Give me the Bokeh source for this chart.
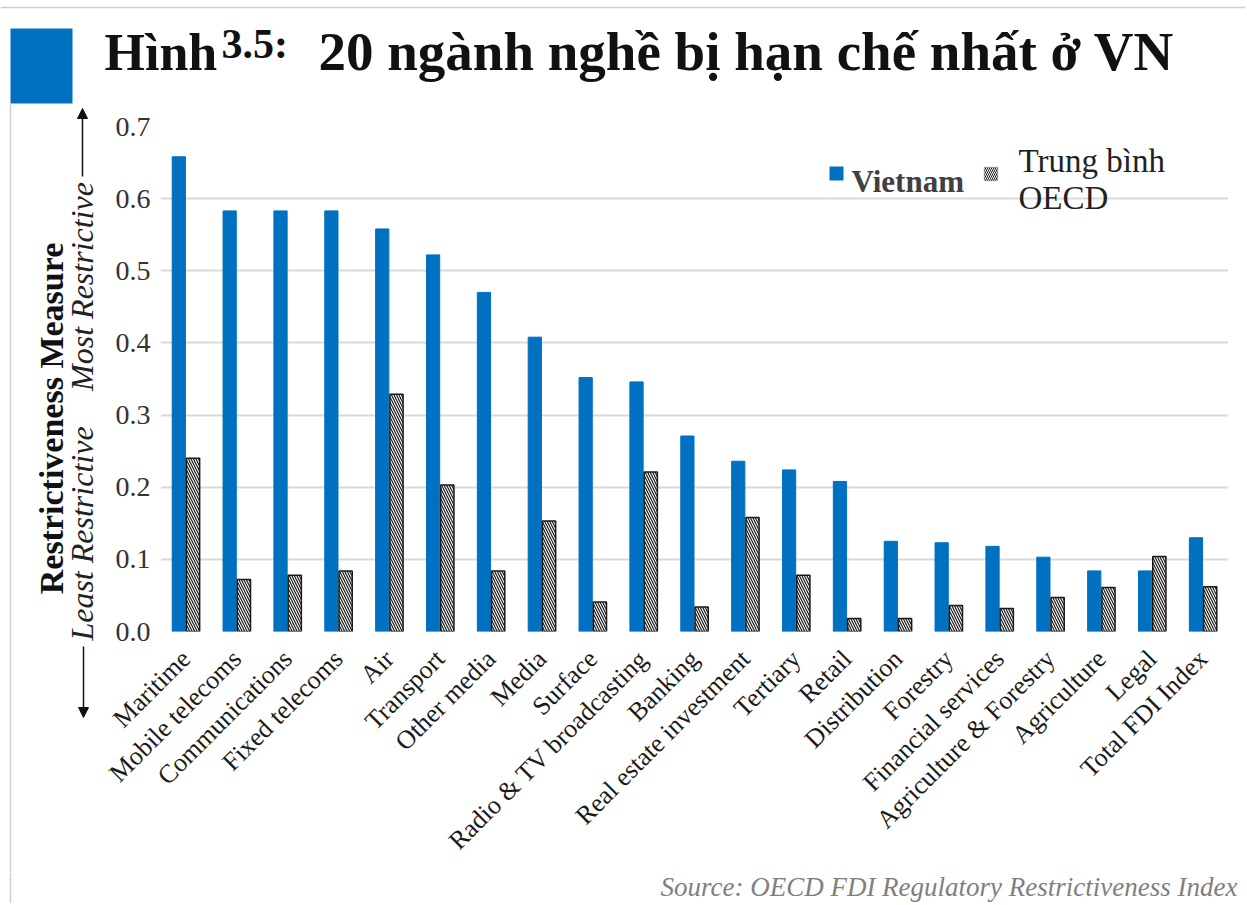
from math import pi
from bokeh.plotting import figure
from bokeh.layouts import column, row
from bokeh.models import (Label, BoxAnnotation, Arrow, NormalHead, Range1d, FactorRange,
                          FixedTicker, PrintfTickFormatter, ColumnDataSource)
from bokeh.core.properties import value
from bokeh.transform import dodge
from bokeh.embed import file_html
from bokeh.resources import INLINE

# ---------------- data ----------------
categories = ["Maritime", "Mobile telecoms", "Communications", "Fixed telecoms", "Air",
              "Transport", "Other media", "Media", "Surface", "Radio & TV broadcasting",
              "Banking", "Real estate investment", "Tertiary", "Retail", "Distribution",
              "Forestry", "Financial services", "Agriculture & Forestry", "Agriculture",
              "Legal", "Total FDI Index"]
vietnam = [0.658, 0.583, 0.583, 0.583, 0.558, 0.522, 0.470, 0.408, 0.352, 0.346,
           0.271, 0.236, 0.224, 0.208, 0.125, 0.123, 0.118, 0.103, 0.084, 0.084, 0.130]
oecd = [0.240, 0.072, 0.078, 0.084, 0.329, 0.203, 0.084, 0.153, 0.041, 0.221,
        0.034, 0.158, 0.078, 0.018, 0.018, 0.036, 0.032, 0.047, 0.061, 0.104, 0.062]
y_ticks = [0.0, 0.1, 0.2, 0.3, 0.4, 0.5, 0.6, 0.7]

title_prefix = "Hình"
title_num = "3.5:"
title_main = "20 ngành nghề bị hạn chế nhất ở VN"
series_names = ["Vietnam", "Trung bình\nOECD"]
y_title = "Restrictiveness Measure"
y_low = "Least Restrictive"
y_high = "Most Restrictive"
source_note = "Source: OECD FDI Regulatory Restrictiveness Index"

# ---------------- style ----------------
BLUE = "#0070C0"
SERIF = "Liberation Serif"
BORDER = "#cfcfcf"

TOTAL_W, TOTAL_H = 1245, 903
HEAD_H = 105          # title strip
FOOT_Y = 872          # where the source strip starts
LEFT_W = 102          # strip holding the vertical axis titles
MID_H = FOOT_Y - HEAD_H


def mid(baseline, size):
    """centre line of a text whose alphabetic baseline is given (Liberation metrics)"""
    return baseline - 0.3375 * size


def blank(width, height, y0, y1, x0=0, x1=None):
    f = figure(width=width, height=height, output_backend="svg", toolbar_location=None,
               x_range=Range1d(x0, x1 if x1 is not None else x0 + width),
               y_range=Range1d(y1, y0), x_axis_type=None, y_axis_type=None,
               min_border=0, frame_align=False)
    f.outline_line_color = None
    f.grid.visible = False
    f.background_fill_color = "white"
    f.border_fill_color = "white"
    return f

# ---------------- title strip ----------------
head = blank(TOTAL_W, HEAD_H, 0, HEAD_H)
head.segment(x0=[0], y0=[7], x1=[TOTAL_W], y1=[7], line_color=BORDER, line_width=1.5)
head.quad(left=[10], right=[72], top=[28], bottom=[103], fill_color=BLUE, line_color=None)
head.segment(x0=[10], y0=[103], x1=[10], y1=[HEAD_H], line_color=BORDER, line_width=1.5)
head.text(x=[104], y=[mid(70, 52)], text=[title_prefix], text_font=value(SERIF),
          text_font_style="bold", text_font_size="52px", text_color="#111111",
          text_baseline="middle")
head.text(x=[221], y=[mid(58, 42)], text=[title_num], text_font=value(SERIF),
          text_font_style="bold", text_font_size="42px", text_color="#111111",
          text_baseline="middle")
head.text(x=[318], y=[mid(70, 55)], text=[title_main], text_font=value(SERIF),
          text_font_style="bold", text_font_size="55px", text_color="#111111",
          text_baseline="middle")

# ---------------- left strip (axis titles) ----------------
left = blank(LEFT_W, MID_H, HEAD_H, FOOT_Y)
left.segment(x0=[10], y0=[HEAD_H], x1=[10], y1=[FOOT_Y], line_color=BORDER, line_width=1.5)
left.text(x=[51], y=[418], text=[y_title], angle=pi / 2, text_align="center",
          text_baseline="middle", text_font=value(SERIF), text_font_style="bold",
          text_font_size="34px", text_color="#111111")
left.text(x=[81, 81], y=[533, 286], text=[y_low, y_high], angle=pi / 2, text_align="center",
          text_baseline="middle", text_font=value(SERIF), text_font_style="italic",
          text_font_size="32px", text_color="#222222")
left.add_layout(Arrow(end=NormalHead(size=10, fill_color="#111111", line_color="#111111"),
                      x_start=82, y_start=176, x_end=82, y_end=108,
                      line_color="#111111", line_width=1.5))
left.add_layout(Arrow(end=NormalHead(size=10, fill_color="#111111", line_color="#111111"),
                      x_start=83, y_start=646, x_end=83, y_end=717,
                      line_color="#111111", line_width=1.5))

# ---------------- main chart ----------------
FRAME_L, FRAME_R, FRAME_T, FRAME_B = 160, 1228, 126, 631
src = ColumnDataSource(dict(cat=categories, vn=vietnam, oecd=oecd))
p = figure(width=TOTAL_W - LEFT_W, height=MID_H,
           x_range=FactorRange(*categories, range_padding=0), y_range=Range1d(0, 0.7),
           output_backend="svg", toolbar_location=None, frame_align=False,
           min_border_left=FRAME_L - LEFT_W, min_border_right=TOTAL_W - FRAME_R,
           min_border_top=FRAME_T - HEAD_H, min_border_bottom=FOOT_Y - FRAME_B)
p.outline_line_color = None
p.background_fill_color = "white"
p.border_fill_color = "white"

p.vbar(x=dodge("cat", -0.14, range=p.x_range), top="vn", width=0.26, source=src,
       fill_color=BLUE, line_color=BLUE, line_width=1)
p.vbar(x=dodge("cat", 0.14, range=p.x_range), top="oecd", width=0.26, source=src,
       fill_color="white", line_color="#1a1a1a", line_width=1.5,
       hatch_pattern="\\", hatch_color="#1a1a1a", hatch_scale=5, hatch_weight=1.2)

p.xgrid.grid_line_color = None
p.ygrid.grid_line_color = "#d9d9d9"
p.ygrid.grid_line_width = 2
p.yaxis.ticker = FixedTicker(ticks=y_ticks)
p.yaxis.formatter = PrintfTickFormatter(format="%.1f")
for ax in (p.xaxis[0], p.yaxis[0]):
    ax.axis_line_color = None
    ax.major_tick_line_color = None
    ax.minor_tick_line_color = None
    ax.major_tick_out = 0
    ax.major_tick_in = 0
    ax.major_label_text_font = SERIF
p.yaxis.major_label_text_font_size = "28px"
p.yaxis.major_label_text_color = "#333333"
p.yaxis.major_label_standoff = 10
p.xaxis.major_label_text_font_size = "26px"
p.xaxis.major_label_text_color = "#1a1a1a"
p.xaxis.major_label_orientation = pi / 4
p.xaxis.major_label_standoff = 23


def sx(px):
    return px - FRAME_L


def sy(py):
    return FRAME_B - py


def screen_box(l, r, t, b, **kw):
    return BoxAnnotation(left=sx(l), right=sx(r), top=sy(t), bottom=sy(b),
                         left_units="screen", right_units="screen",
                         top_units="screen", bottom_units="screen", **kw)

# legend
p.add_layout(screen_box(829, 843, 166, 180, fill_color=BLUE, fill_alpha=1, line_color=None))
p.add_layout(Label(x=sx(851), y=sy(181), x_units="screen", y_units="screen",
                   text=series_names[0], text_font=SERIF, text_font_style="bold",
                   text_font_size="31px", text_color="#404040", text_baseline="alphabetic"))
p.add_layout(screen_box(984, 997, 167, 180, fill_color="white", fill_alpha=1,
                        line_color="#1a1a1a", line_width=1.5, hatch_pattern="\\",
                        hatch_color="#1a1a1a", hatch_scale=4, hatch_weight=1))
leg2 = series_names[1].split("\n")
for txt, base in zip(leg2, (160, 197)):
    p.add_layout(Label(x=sx(1018), y=sy(base), x_units="screen", y_units="screen", text=txt,
                       text_font=SERIF, text_font_size="33px", text_color="#222222",
                       text_baseline="alphabetic"))

# ---------------- source strip ----------------
foot = blank(TOTAL_W, TOTAL_H - FOOT_Y, FOOT_Y, TOTAL_H)
foot.segment(x0=[10], y0=[FOOT_Y], x1=[10], y1=[TOTAL_H], line_color=BORDER, line_width=1.5)
foot.text(x=[1237], y=[mid(896, 27)], text=[source_note], text_font=value(SERIF),
          text_font_style="italic", text_font_size="27px", text_color="#7f7f7f",
          text_align="right", text_baseline="middle")

layout = column(head, row(left, p), foot)
open("out.html", "w").write(file_html(layout, INLINE))
